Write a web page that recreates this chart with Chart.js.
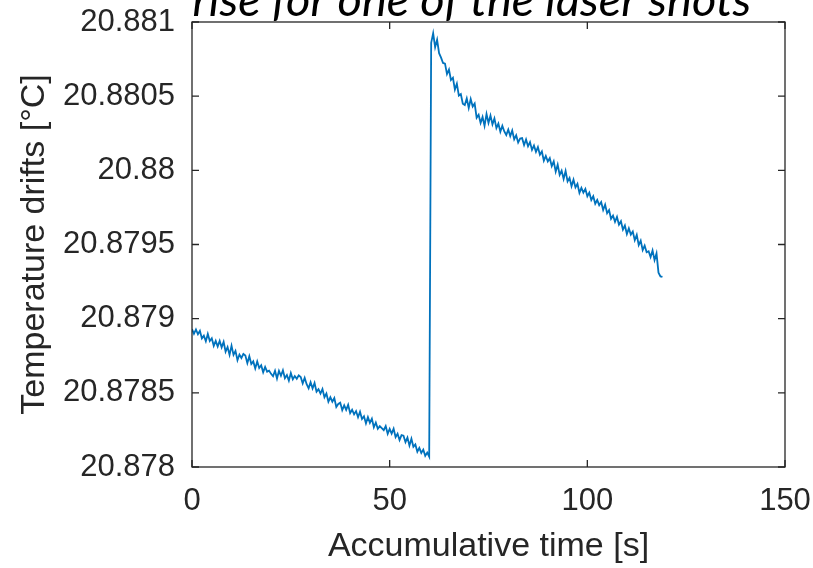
<!DOCTYPE html>
<html><head><meta charset="utf-8">
<script src="https://cdn.jsdelivr.net/npm/chart.js@4/dist/chart.umd.min.js"></script>
<style>html,body{margin:0;padding:0;background:#fff;overflow:hidden}</style>
</head><body>
<canvas id="c" width="813" height="568"></canvas>
<script>
const titleText = 'rise for one of the laser shots';
const xAxisTitle = 'Accumulative time [s]';
const yAxisTitle = 'Temperature drifts [°C]';
const sampleInterval = 0.5;       // seconds between samples
const startBeforeShot = 0;        // s
const startAfterShot = 60.5;      // s
const tempBeforeShot = [
20.87893,20.878898,20.878927,20.878895,20.878918,20.878867,20.878885,20.878848,20.878897,20.87885,20.878868,20.878817,20.87885,
20.878812,20.87885,20.878807,20.878844,20.878777,20.878809,20.878756,20.878818,20.878756,20.878783,20.87872,20.878758,20.878735,20.878762,
20.878752,20.8787,20.878747,20.878694,20.878712,20.878664,20.878711,20.878668,20.878686,20.878638,20.878675,20.878643,20.87865,20.878628,
20.878612,20.878649,20.878596,20.878648,20.878615,20.878652,20.878599,20.87862,20.878582,20.878634,20.878591,20.878613,20.878595,20.878618,
20.878607,20.878564,20.878601,20.878558,20.87853,20.878572,20.878529,20.878566,20.878508,20.878525,
20.878495,20.878525,20.87847,20.878495,20.87844,20.87847,20.87844,20.878465,20.878405,20.878425,
20.878434,20.878383,20.878416,20.878385,20.878419,20.878363,20.878386,20.878355,
20.878377,20.878335,20.878372,20.878324,20.878342,20.878294,20.878336,20.878298,20.878326,20.878268,20.8783,20.878258,20.878275,20.878262,
20.878248,20.878276,20.878224,20.878257,20.878225,20.878258,20.878201,20.878224,20.878182,20.878215,
20.878211,20.878167,20.878198,20.878144,20.87819,20.878136,20.878152,20.878103,20.878129,20.878095,
20.878117,20.878075,20.878097,20.87807
];
const tempAfterShot = [
20.88086,20.880924,20.88083,20.88088,20.88079,20.88076,20.880724,
20.880719,20.880649,20.880679,20.880609,20.880624,20.880544,20.880584,20.880504,20.880514,20.880449,
20.88044,20.880485,20.88042,20.88048,20.88043,20.88045,20.880355,20.880375,20.880319,
20.88036,20.8803,20.88038,20.88032,20.88037,20.88031,
20.88035,20.880285,20.880315,20.88026,20.8803,20.880262,
20.880238,20.880275,20.880231,20.880268,20.880209,20.880236,20.880187,20.880214,
20.880217,20.88017,20.880208,20.880162,20.88019,20.880138,20.880167,
20.880125,20.880157,20.880105,20.880127,20.880065,20.880097,20.88006,
20.880082,20.880028,20.88006,20.879991,20.880038,20.879969,
20.879998,20.879942,20.879996,20.879925,20.879949,20.879893,20.879937,20.879885,20.879909,20.879848,20.879882,20.87985,
20.879875,20.879825,20.87985,20.8798,20.879825,20.879775,20.8798,20.879765,
20.879786,20.879733,20.879769,20.879711,20.879732,20.879673,20.879695,
20.879653,20.879686,20.879634,20.879657,20.8796,20.879628,20.879571,20.879609,20.879567,
20.879588,20.879529,20.879565,20.879496,20.879526,20.879462,20.879493,20.879448,
20.879455,20.879415,20.87946,20.879395,20.87944,20.87931,20.879285,20.879281
];
const xTickValues = [0, 50, 100, 150];
const xTickLabels = ['0', '50', '100', '150'];
const yTickValues = [20.878, 20.8785, 20.879, 20.8795, 20.88, 20.8805, 20.881];
const yTickLabels = ['20.878', '20.8785', '20.879', '20.8795', '20.88', '20.8805', '20.881'];

const points = tempBeforeShot.map((v, i) => ({x: startBeforeShot + i * sampleInterval, y: v}))
  .concat(tempAfterShot.map((v, i) => ({x: startAfterShot + i * sampleInterval, y: v})));

const AX = '#262626';
const zeroPad = s => { s.paddingTop = 0; s.paddingBottom = 0; s.paddingLeft = 0; s.paddingRight = 0; };

const boxPlugin = {
  id: 'box',
  afterDraw(chart) {
    const {ctx, chartArea: a, scales: {x, y}} = chart;
    ctx.save();
    ctx.strokeStyle = AX;
    ctx.lineWidth = 1.3;
    ctx.strokeRect(a.left, a.top, a.right - a.left, a.bottom - a.top);
    const L = 7;
    ctx.beginPath();
    xTickValues.forEach(v => {
      const p = x.getPixelForValue(v);
      ctx.moveTo(p, a.bottom); ctx.lineTo(p, a.bottom - L);
      ctx.moveTo(p, a.top); ctx.lineTo(p, a.top + L);
    });
    yTickValues.forEach(v => {
      const p = y.getPixelForValue(v);
      ctx.moveTo(a.left, p); ctx.lineTo(a.left + L, p);
      ctx.moveTo(a.right, p); ctx.lineTo(a.right - L, p);
    });
    ctx.stroke();
    ctx.fillStyle = '#000';
    ctx.font = 'italic 47px Lato, "Open Sans", sans-serif';
    ctx.textAlign = 'center';
    ctx.textBaseline = 'alphabetic';
    ctx.fillText(titleText, 472, 16);
    ctx.restore();
  }
};

new Chart(document.getElementById('c'), {
  type: 'line',
  data: { datasets: [{ data: points, borderColor: '#0072BD', borderWidth: 1.8, pointRadius: 0, tension: 0, fill: false }] },
  options: {
    responsive: false, animation: false, devicePixelRatio: 1,
    parsing: false, normalized: true,
    layout: { padding: { left: 10, right: 28, top: 22, bottom: 0 } },
    plugins: { legend: { display: false }, tooltip: { enabled: false }, title: { display: false } },
    scales: {
      x: {
        type: 'linear', min: 0, max: 150,
        afterBuildTicks: s => { s.ticks = xTickValues.map(v => ({value: v})); },
        afterFit: s => { s.height = 101; zeroPad(s); },
        grid: { display: false, drawTicks: false },
        border: { display: false },
        ticks: { padding: 16, color: AX, font: { family: 'Liberation Sans, Arial, sans-serif', size: 31 },
                 callback: (v, i) => xTickLabels[i], maxRotation: 0 },
        title: { display: true, text: xAxisTitle, color: AX, padding: { top: 0, bottom: 1 },
                 font: { family: 'Liberation Sans, Arial, sans-serif', size: 34 } }
      },
      y: {
        type: 'linear', min: 20.878, max: 20.881,
        afterBuildTicks: s => { s.ticks = yTickValues.map(v => ({value: v})); },
        afterFit: s => { s.width = 182; zeroPad(s); },
        grid: { display: false, drawTicks: false },
        border: { display: false },
        ticks: { padding: 17, color: AX, font: { family: 'Liberation Sans, Arial, sans-serif', size: 31 },
                 callback: (v, i) => yTickLabels[i] },
        title: { display: true, text: yAxisTitle, color: AX, padding: { top: 4, bottom: 0 },
                 font: { family: 'Liberation Sans, Arial, sans-serif', size: 34 } }
      }
    }
  },
  plugins: [boxPlugin]
});
</script>
</body></html>
